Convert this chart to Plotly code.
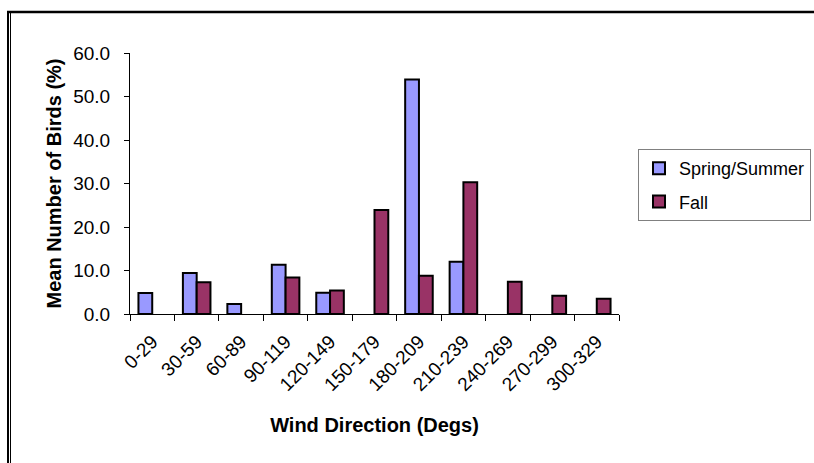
import plotly.graph_objects as go

categories = ["0-29", "30-59", "60-89", "90-119", "120-149", "150-179",
              "180-209", "210-239", "240-269", "270-299", "300-329"]
spring_summer = [4.8, 9.4, 2.3, 11.3, 4.9, None, 53.9, 12.0, None, None, None]
fall = [None, 7.3, None, 8.4, 5.4, 23.9, 8.8, 30.3, 7.4, 4.2, 3.5]
y_ticks = [0, 10, 20, 30, 40, 50, 60]
y_tick_labels = ["0.0", "10.0", "20.0", "30.0", "40.0", "50.0", "60.0"]

FONT = "Liberation Sans, Arial, sans-serif"

fig = go.Figure()
fig.add_trace(go.Bar(name="Spring/Summer", x=categories, y=spring_summer,
                     legendgroup="a",
                     marker=dict(color="#9999FF", line=dict(color="black", width=2))))
fig.add_trace(go.Bar(name="Fall", x=categories, y=fall,
                     legendgroup="b",
                     marker=dict(color="#993366", line=dict(color="black", width=2))))

# plot area in pixels: x 130..619, y 53..314
L, R, T, B = 130, 619, 53, 314
W, H = 814, 463

def px(x):
    return (x - L) / (R - L)

def py(y):
    return (B - y) / (B - T)

fig.update_layout(
    width=W, height=H,
    margin=dict(l=L, r=W - R, t=T, b=H - B, autoexpand=False),
    paper_bgcolor="white", plot_bgcolor="white",
    barmode="group", bargap=0.38, bargroupgap=0,
    font=dict(family=FONT, size=19, color="black"),
    showlegend=True,
    legend=dict(x=px(638), y=py(149), xanchor="left", yanchor="top",
                bordercolor="#808080", borderwidth=1, bgcolor="white",
                font=dict(family=FONT, size=18), tracegroupgap=7,
                itemsizing="constant"),
    xaxis=dict(
        type="category", tickson="boundaries", ticks="outside", ticklen=6,
        tickcolor="black", showline=True, linecolor="black", linewidth=1,
        tickangle=-45, tickfont=dict(size=19), showgrid=False,
        ticklabelstandoff=8,
        title=dict(text="<b>Wind Direction (Degs)</b>", font=dict(size=20), standoff=23),
    ),
    yaxis=dict(
        range=[0, 60], tickvals=y_ticks, ticktext=y_tick_labels,
        ticks="outside", ticklen=5, tickcolor="black",
        showline=True, linecolor="black", linewidth=1, showgrid=False,
        zeroline=False, tickfont=dict(size=19), ticklabelstandoff=10,
        title=dict(text="<b>Mean Number of Birds (%)</b>", font=dict(size=20), standoff=6),
    ),
    shapes=[
        dict(type="line", xref="paper", yref="paper", x0=px(7), x1=px(814),
             y0=py(12), y1=py(12), line=dict(color="black", width=2.5)),
        dict(type="line", xref="paper", yref="paper", x0=px(8), x1=px(8),
             y0=py(11), y1=py(463), line=dict(color="black", width=2)),
        dict(type="line", xref="paper", yref="paper", x0=px(10.5), x1=px(10.5),
             y0=py(13), y1=py(463), line=dict(color="black", width=1)),
    ],
)

fig.write_html("out.html", config={"displayModeBar": False},
               post_script="document.body.style.margin='0';")
